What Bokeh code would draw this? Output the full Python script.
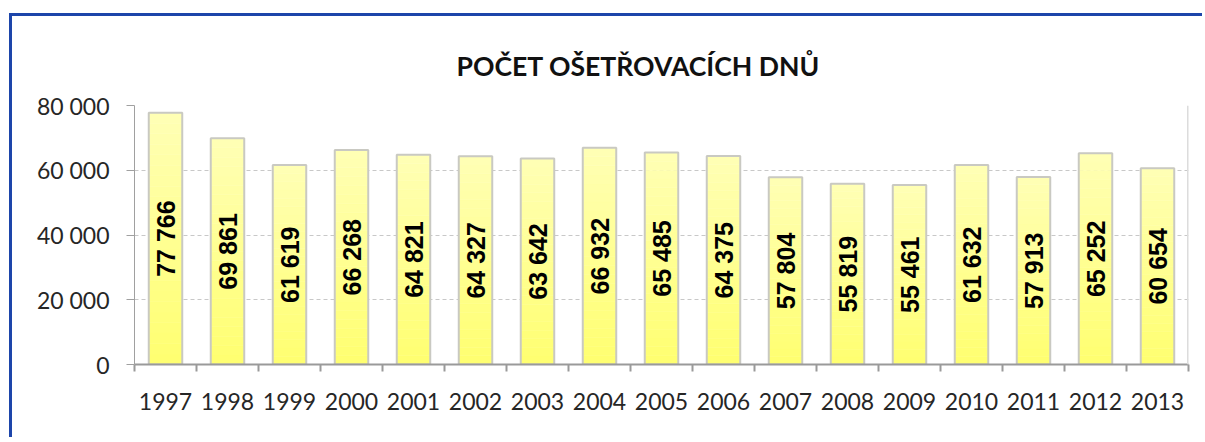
import math
from bokeh.plotting import figure
from bokeh.models import Range1d, FixedTicker, ColumnDataSource, Span
from bokeh.core.properties import value
from bokeh.embed import file_html
from bokeh.resources import INLINE

# ---- data ----
years = ["1997", "1998", "1999", "2000", "2001", "2002", "2003", "2004", "2005",
         "2006", "2007", "2008", "2009", "2010", "2011", "2012", "2013"]
days = [77766, 69861, 61619, 66268, 64821, 64327, 63642, 66932, 65485,
        64375, 57804, 55819, 55461, 61632, 57913, 65252, 60654]
y_ticks = [0, 20000, 40000, 60000, 80000]
title_text = "POČET OŠETŘOVACÍCH DNŮ"


def fmt(v):
    return f"{v:,}".replace(",", " ")


idx = list(range(len(years)))
labels = [fmt(v) for v in days]

p = figure(width=1193, height=424, output_backend="svg", toolbar_location=None,
           x_range=Range1d(-0.5, len(years) - 0.5), y_range=Range1d(0, 80000),
           min_border_left=122, min_border_right=17, min_border_top=89, min_border_bottom=76,
           border_fill_color="white", background_fill_color="white",
           outline_line_color=None,
           styles={"margin-left": "12px", "margin-top": "16px",
                   "box-shadow": "-3px -3px 0 0 #1d45aa"})

# title
p.title.text = title_text
p.title.align = "left"
p.title.offset = 322
p.title.standoff = 48
p.title.text_font = "Lato"
p.title.text_font_style = "bold"
p.title.text_font_size = "26.6px"
p.title.text_color = "#111111"

# gradient bars built as stacked bands of each bar
N = 24
top_rgb = (255, 255, 182)
bot_rgb = (255, 255, 112)
bx, bb, bt, bc = [], [], [], []
for i, v in zip(idx, days):
    for k in range(N):
        f = (k + 0.5) / N
        r = int(bot_rgb[0] + (top_rgb[0] - bot_rgb[0]) * f)
        g = int(bot_rgb[1] + (top_rgb[1] - bot_rgb[1]) * f)
        b = int(bot_rgb[2] + (top_rgb[2] - bot_rgb[2]) * f)
        bx.append(i)
        bb.append(v * k / N)
        bt.append(v * (k + 1) / N)
        bc.append("#%02x%02x%02x" % (r, g, b))
p.vbar(x=bx, bottom=bb, top=bt, width=0.54, fill_color=bc, line_color=bc, line_width=0.5)
p.vbar(x=idx, top=days, width=0.54, fill_color=None, line_color="#c9c9c2", line_width=2)

src = ColumnDataSource(dict(x=idx, y=[v / 2 for v in days], t=labels))
p.text(x="x", y="y", text="t", source=src, angle=math.pi / 2,
       text_font=value("Liberation Sans"), text_font_style="bold", text_font_size="25px",
       text_align="center", text_baseline="middle", text_color="black")

# soft shade on the right edge of the plot area
p.add_layout(Span(location=len(years) - 0.5, dimension="height",
                  line_color="#dcdcdc", line_width=3))

# x axis
xa = p.xaxis[0]
xa.ticker = FixedTicker(ticks=idx, minor_ticks=[i - 0.5 for i in range(len(years) + 1)])
xa.major_label_overrides = {i: y for i, y in zip(idx, years)}
xa.major_tick_line_color = None
xa.major_tick_out = 0
xa.minor_tick_line_color = "#9a9a9a"
xa.minor_tick_line_width = 2
xa.minor_tick_out = 7
xa.minor_tick_in = 0
xa.axis_line_color = "#9a9a9a"
xa.axis_line_width = 2
xa.major_label_standoff = 21
xa.major_label_text_font = "Lato"
xa.major_label_text_font_size = "23px"
xa.major_label_text_color = "#262626"

# y axis
ya = p.yaxis[0]
ya.ticker = FixedTicker(ticks=y_ticks)
ya.major_label_overrides = {t: fmt(t) for t in y_ticks}
ya.major_tick_line_color = "#a0a0a0"
ya.major_tick_out = 8
ya.major_tick_in = 0
ya.minor_tick_line_color = None
ya.axis_line_color = "#a0a0a0"
ya.major_label_standoff = 17
ya.major_label_text_font = "Lato"
ya.major_label_text_font_size = "23px"
ya.major_label_text_color = "#262626"

p.xgrid.grid_line_color = None
p.ygrid.grid_line_color = "#c8c8c8"
p.ygrid.grid_line_dash = "4 3"

open("out.html", "w").write(file_html(p, INLINE))
